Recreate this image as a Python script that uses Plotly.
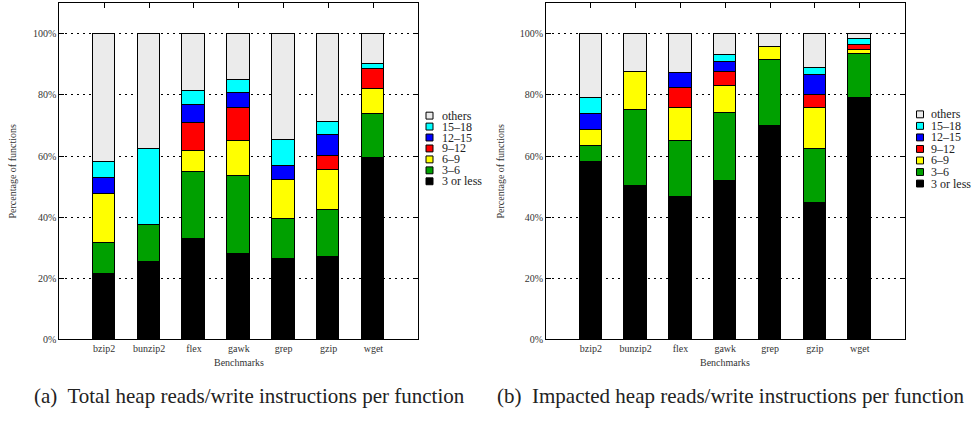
import plotly.graph_objects as go

W, H = 973, 421

benchmarks = ["bzip2", "bunzip2", "flex", "gawk", "grep", "gzip", "wget"]
series_names = ["3 or less", "3–6", "6–9", "9–12", "12–15", "15–18", "others"]
series_colors = ["#000000", "#00a000", "#ffff00", "#ff0000", "#0000ff", "#00ffff", "#ebebeb"]

# (a) Total heap reads/write instructions per function (percent)
total_3_or_less = [21.1, 25.0, 32.6, 27.6, 26.2, 26.8, 59.1]
total_3_6 = [10.3, 12.4, 22.0, 25.7, 12.9, 15.4, 14.5]
total_6_9 = [15.9, 0.0, 6.9, 11.4, 13.0, 13.2, 8.3]
total_9_12 = [0.0, 0.0, 9.2, 11.0, 0.0, 4.6, 6.5]
total_12_15 = [5.2, 0.0, 5.9, 4.9, 4.4, 6.6, 0.0]
total_15_18 = [5.3, 24.9, 4.7, 4.3, 8.6, 4.3, 1.6]
total_others = [42.2, 37.7, 18.7, 15.1, 34.9, 29.1, 10.0]

# (b) Impacted heap reads/write instructions per function (percent)
imp_3_or_less = [58.0, 50.1, 46.5, 51.8, 69.6, 44.5, 78.8]
imp_3_6 = [5.0, 24.7, 18.4, 22.0, 21.7, 17.6, 14.4]
imp_6_9 = [5.4, 12.6, 10.6, 9.1, 4.2, 13.4, 1.5]
imp_9_12 = [0.0, 0.0, 6.8, 4.6, 0.0, 4.4, 1.7]
imp_12_15 = [5.1, 0.0, 4.8, 3.2, 0.0, 6.6, 0.0]
imp_15_18 = [5.4, 0.0, 0.0, 2.3, 0.0, 2.2, 1.7]
imp_others = [21.1, 12.6, 12.9, 7.0, 4.5, 11.3, 1.9]

y_ticks = [0, 20, 40, 60, 80, 100]
y_tick_labels = ["0%", "20%", "40%", "60%", "80%", "100%"]

panel_a = [total_3_or_less, total_3_6, total_6_9, total_9_12, total_12_15, total_15_18, total_others]
panel_b = [imp_3_or_less, imp_3_6, imp_6_9, imp_9_12, imp_12_15, imp_15_18, imp_others]

FONT = "Liberation Serif, Times New Roman, serif"

fig = go.Figure()
for panel, (xa, ya) in ((panel_a, ("x", "y")), (panel_b, ("x2", "y2"))):
    for name, color, vals in zip(series_names, series_colors, panel):
        fig.add_trace(go.Bar(
            x=list(range(len(benchmarks))), y=vals, name=name,
            marker=dict(color=color, line=dict(color="#000000", width=1)),
            width=0.5, xaxis=xa, yaxis=ya, showlegend=False,
        ))

# window-pixel -> paper coordinates
def px_x(p):
    return p / W

def px_y(p):
    return 1 - p / H

y_dom = [px_y(344), px_y(3.5)]
x_dom_a = [px_x(59.3), px_x(418.3)]
x_dom_b = [px_x(546), px_x(904.5)]

axis_common_x = dict(
    range=[-1, 7], tickvals=list(range(len(benchmarks))), ticktext=benchmarks,
    showline=True, linecolor="#000000", linewidth=1, mirror="ticks",
    ticks="inside", ticklen=5, tickcolor="#000000", showgrid=False, zeroline=False,
    tickfont=dict(family=FONT, size=10, color="#333333"),
)
axis_common_y = dict(
    range=[0, 110], tickvals=y_ticks, ticktext=y_tick_labels,
    showline=True, linecolor="#000000", linewidth=1, mirror="ticks",
    ticks="inside", ticklen=5, tickcolor="#000000",
    showgrid=True, gridcolor="#000000", gridwidth=1, griddash="2px,4px",
    zeroline=False, tickfont=dict(family=FONT, size=10, color="#333333"),
)

fig.update_layout(
    width=W, height=H, margin=dict(l=0, r=0, t=0, b=0),
    paper_bgcolor="white", plot_bgcolor="white",
    barmode="stack", bargap=0,
    xaxis=dict(domain=x_dom_a, anchor="y", **axis_common_x),
    yaxis=dict(domain=y_dom, anchor="x", **axis_common_y),
    xaxis2=dict(domain=x_dom_b, anchor="y2", **axis_common_x),
    yaxis2=dict(domain=y_dom, anchor="x2", **axis_common_y),
    font=dict(family=FONT),
)

annotations = []
shapes = []

# axis titles
for cx, ty_x in (((59.3 + 418.3) / 2, 13), ((546 + 904.5) / 2, 501)):
    annotations.append(dict(text="Benchmarks", x=px_x(cx), y=px_y(368), xref="paper", yref="paper",
                            showarrow=False, xanchor="center", yanchor="middle",
                            font=dict(family=FONT, size=10, color="#333333")))
    annotations.append(dict(text="Percentage of functions", x=px_x(ty_x), y=px_y(174), xref="paper", yref="paper",
                            showarrow=False, xanchor="center", yanchor="middle", textangle=-90,
                            font=dict(family=FONT, size=10, color="#333333")))

# captions
annotations.append(dict(text="(a)  Total heap reads/write instructions per function", x=px_x(249), y=px_y(402),
                        xref="paper", yref="paper", showarrow=False, xanchor="center", yanchor="middle",
                        font=dict(family=FONT, size=21, color="#222222")))
annotations.append(dict(text="(b)  Impacted heap reads/write instructions per function", x=px_x(731), y=px_y(402),
                        xref="paper", yref="paper", showarrow=False, xanchor="center", yanchor="middle",
                        font=dict(family=FONT, size=21, color="#222222")))

# custom compact legends (top row: others)
for sq_x, txt_x, top_y, step in ((426, 440, 117.3, 11.1), (916.5, 929, 116, 11.7)):
    for i, (name, color) in enumerate(zip(series_names[::-1], series_colors[::-1])):
        cy = top_y + step * i
        shapes.append(dict(type="rect", xref="paper", yref="paper",
                           x0=px_x(sq_x), x1=px_x(sq_x + 7), y0=px_y(cy + 3.5), y1=px_y(cy - 3.5),
                           fillcolor=color, line=dict(color="#000000", width=1)))
        annotations.append(dict(text=name, x=px_x(txt_x), y=px_y(cy), xref="paper", yref="paper",
                                showarrow=False, xanchor="left", yanchor="middle",
                                font=dict(family=FONT, size=12, color="#222222")))

fig.update_layout(annotations=annotations, shapes=shapes)
fig.write_html("out.html", config={"displayModeBar": False},
               post_script="document.body.style.margin='0';document.body.style.overflow='hidden';")
